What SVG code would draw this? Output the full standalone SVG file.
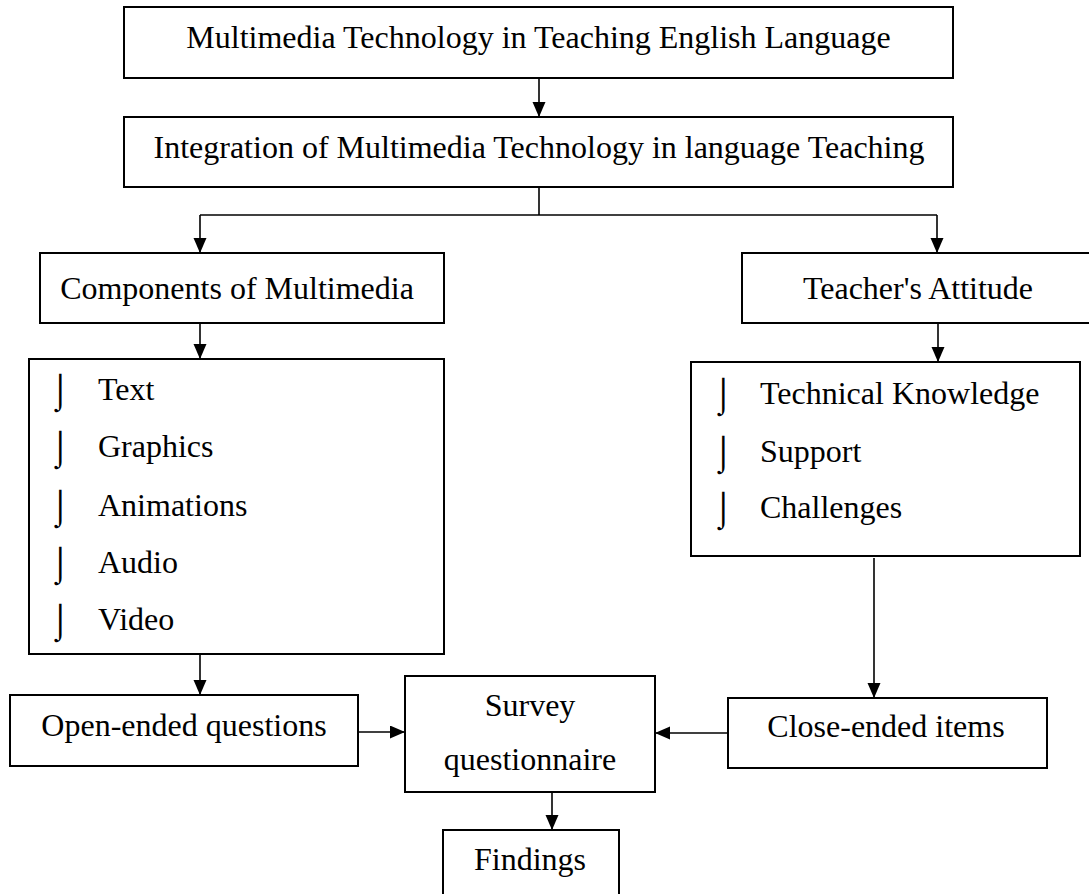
<svg xmlns="http://www.w3.org/2000/svg" width="1089" height="894" viewBox="0 0 1089 894">
<style>
  .box { fill: #ffffff; stroke: #000000; stroke-width: 2; }
  .t { font-family: "Liberation Serif", "Times New Roman", serif; font-size: 32px; fill: #000000; }
  .c { text-anchor: middle; }
  .b { font-family: "DejaVu Sans", sans-serif; font-size: 34px; font-weight: 200; fill: #000000; }
  .conn { fill: none; stroke: #000000; stroke-width: 1.6; }
</style>
<defs>
  <marker id="ah" markerUnits="userSpaceOnUse" markerWidth="16" markerHeight="14" refX="15" refY="6.5" orient="auto">
    <path d="M0,0 L15,6.5 L0,13 z" fill="#000000"/>
  </marker>
</defs>
<rect width="1089" height="894" fill="#ffffff"/>

<g id="connectors">
  <line class="conn" x1="539" y1="78" x2="539" y2="117" marker-end="url(#ah)"/>
  <polyline class="conn" points="539,187 539,215"/>
  <polyline class="conn" points="200,215 937,215"/>
  <line class="conn" x1="200" y1="215" x2="200" y2="253" marker-end="url(#ah)"/>
  <line class="conn" x1="937" y1="215" x2="937" y2="253" marker-end="url(#ah)"/>
  <line class="conn" x1="200" y1="323" x2="200" y2="359" marker-end="url(#ah)"/>
  <line class="conn" x1="938" y1="323" x2="938" y2="362" marker-end="url(#ah)"/>
  <line class="conn" x1="874" y1="558" x2="874" y2="698" marker-end="url(#ah)"/>
  <line class="conn" x1="200" y1="654" x2="200" y2="695" marker-end="url(#ah)"/>
  <line class="conn" x1="358" y1="732" x2="405" y2="732" marker-end="url(#ah)"/>
  <line class="conn" x1="728" y1="733" x2="655" y2="733" marker-end="url(#ah)"/>
  <line class="conn" x1="552" y1="792" x2="552" y2="830" marker-end="url(#ah)"/>
</g>

<g id="n-title">
  <rect class="box" x="124" y="7" width="829" height="71"/>
  <text class="t c" x="538.5" y="48">Multimedia Technology in Teaching English Language</text>
</g>
<g id="n-integration">
  <rect class="box" x="124" y="117" width="829" height="70"/>
  <text class="t c" x="539" y="158">Integration of Multimedia Technology in language Teaching</text>
</g>
<g id="n-components">
  <rect class="box" x="40" y="253" width="404" height="70"/>
  <text class="t c" x="237" y="299">Components of Multimedia</text>
</g>
<g id="n-attitude">
  <rect class="box" x="742" y="253" width="360" height="70"/>
  <text class="t c" x="918" y="299">Teacher's Attitude</text>
</g>
<g id="n-components-list">
  <rect class="box" x="29" y="359" width="415" height="295"/>
  <text class="b" x="50" y="402">⌡</text><text class="t" x="98" y="400">Text</text>
  <text class="b" x="50" y="459">⌡</text><text class="t" x="98" y="457">Graphics</text>
  <text class="b" x="50" y="518">⌡</text><text class="t" x="98" y="516">Animations</text>
  <text class="b" x="50" y="575">⌡</text><text class="t" x="98" y="573">Audio</text>
  <text class="b" x="50" y="632">⌡</text><text class="t" x="98" y="630">Video</text>
</g>
<g id="n-attitude-list">
  <rect class="box" x="691" y="362" width="389" height="194"/>
  <text class="b" x="713" y="406">⌡</text><text class="t" x="760" y="404">Technical Knowledge</text>
  <text class="b" x="713" y="464">⌡</text><text class="t" x="760" y="462">Support</text>
  <text class="b" x="713" y="520">⌡</text><text class="t" x="760" y="518">Challenges</text>
</g>
<g id="n-open">
  <rect class="box" x="10" y="695" width="348" height="71"/>
  <text class="t c" x="184" y="736">Open-ended questions</text>
</g>
<g id="n-survey">
  <rect class="box" x="405" y="676" width="250" height="116"/>
  <text class="t c" x="530" y="716">Survey</text>
  <text class="t c" x="530" y="770">questionnaire</text>
</g>
<g id="n-close">
  <rect class="box" x="728" y="698" width="319" height="70"/>
  <text class="t c" x="886" y="737">Close-ended items</text>
</g>
<g id="n-findings">
  <rect class="box" x="443" y="830" width="176" height="70"/>
  <text class="t c" x="530" y="870">Findings</text>
</g>
</svg>
